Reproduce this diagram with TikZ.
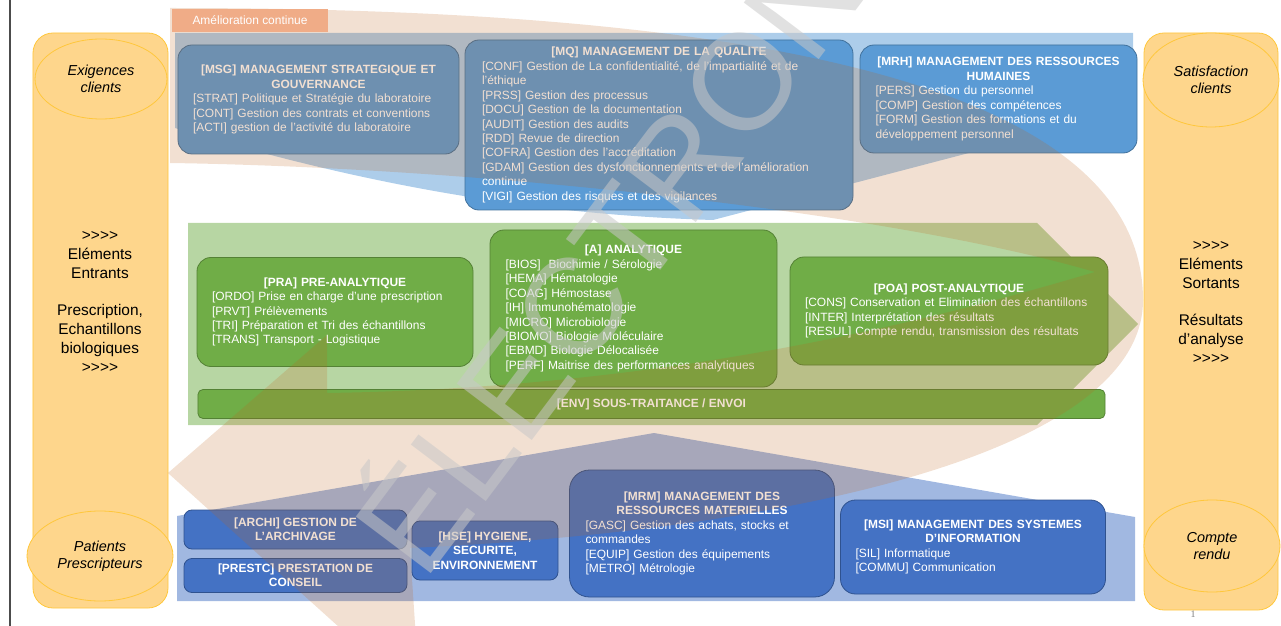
\documentclass[tikz,border=0pt]{standalone}
\usepackage{fontspec}
\setmainfont{Liberation Sans}
\newfontfamily\serif{Liberation Serif}
\usetikzlibrary{shapes.geometric}

\definecolor{colonne}{RGB}{254,214,140}
\definecolor{colbord}{RGB}{255,199,60}
\definecolor{bleuhaut}{RGB}{91,155,213}
\definecolor{bleuhautbord}{RGB}{65,113,156}
\definecolor{vert}{RGB}{112,173,71}
\definecolor{vertbord}{RGB}{84,130,53}
\definecolor{bleubas}{RGB}{68,114,196}
\definecolor{bleubasbord}{RGB}{47,82,143}
\definecolor{peche}{RGB}{190,100,30}
\definecolor{etiquette}{RGB}{240,172,135}
\definecolor{filigrane}{RGB}{200,200,200}

\newcommand{\corps}{\fontsize{12}{14.5}\selectfont}
\newcommand{\titre}[1]{{\centering\bfseries #1\par}}
\newcommand{\fleches}{>\kern0pt>\kern0pt>\kern0pt>}

\tikzset{
  colonne/.style={draw=colbord, fill=colonne, line width=0.8bp, rounded corners=20bp},
  bulle/.style={ellipse, draw=colbord, fill=colonne, line width=0.8bp, inner sep=0pt,
    font=\fontsize{14.5}{17}\selectfont\itshape, align=center},
  cote/.style={font=\fontsize{15.5}{19}\selectfont, align=center},
  boite/.style={line width=0.8bp, text=white, font=\corps, align=left, inner sep=0pt},
  hautbox/.style={boite, draw=bleuhautbord, fill=bleuhaut, rounded corners=14bp},
  vertbox/.style={boite, draw=vertbord, fill=vert, rounded corners=14bp},
  basbox/.style={boite, draw=bleubasbord, fill=bleubas, rounded corners=8bp},
}

\begin{document}
\begin{tikzpicture}[x=1bp,y=-1bp]
  \useasboundingbox (0,0) rectangle (1281,626);
  \clip (0,0) rectangle (1281,626);

  \draw[line width=1.5bp, black!70] (10,0) -- (10,626);

  % colonnes laterales
  \node[colonne, minimum width=135bp, minimum height=575bp] (entree) at (100.5,320.5) {};
  \node[colonne, minimum width=134bp, minimum height=577bp] (sortie) at (1211,321.5) {};

  \node[bulle, minimum width=132bp, minimum height=80bp] (exigences) at (101,79) {Exigences\\clients};
  \node[bulle, minimum width=146bp, minimum height=90bp] (patients) at (100,556) {Patients\\Prescripteurs};
  \node[bulle, minimum width=136bp, minimum height=94bp] (satisfaction) at (1211,80) {Satisfaction\\clients};
  \node[bulle, minimum width=136bp, minimum height=92bp] (compte) at (1212,546) {Compte\\rendu};

  \node[cote] (entrants) at (100,302) {\fleches\\Eléments\\Entrants\\[19pt]Prescription,\\Echantillons\\biologiques\\\fleches};
  \node[cote] (sortants) at (1211,302.5) {\fleches\\Eléments\\Sortants\\[19pt]Résultats\\d’analyse\\\fleches};

  % bandes
  \fill[bleuhaut, opacity=0.5] (175,33) -- (1133,33) -- (1133,110) -- (713,220)
    .. controls (550,215) and (380,190) .. (175,128) -- cycle;
  \fill[vert, opacity=0.5] (188,223) -- (1037,223) -- (1138,324) -- (1037,425) -- (188,425) -- cycle;
  \fill[bleubas, opacity=0.5] (177,516) -- (654,433) -- (1135,517) -- (1135,601) -- (177,601) -- cycle;

  % management
  \begin{scope}[every node/.style={hautbox}]
    \node[minimum width=281bp, minimum height=109bp, text width=251bp] (msg) at (318.5,99.5)
      {\titre{[MSG] MANAGEMENT STRATEGIQUE ET\\GOUVERNANCE}[STRAT] Politique et Stratégie du laboratoire\\{}[CONT] Gestion des contrats et conventions\\{}[ACTI] gestion de l'activité du laboratoire};
    \node[minimum width=388bp, minimum height=170bp, text width=354bp] (mq) at (659,125)
      {\titre{[MQ] MANAGEMENT DE LA QUALITE}[CONF] Gestion de La confidentialité, de l’impartialité et de\\l’éthique\\{}[PRSS] Gestion des processus\\{}[DOCU] Gestion de la documentation\\{}[AUDIT] Gestion des audits\\{}[RDD] Revue de direction\\{}[COFRA] Gestion des l’accréditation\\{}[GDAM] Gestion des dysfonctionnements et de l’amélioration\\continue\\{}[VIGI] Gestion des risques et des vigilances};
    \node[minimum width=277bp, minimum height=108bp, text width=246bp] (mrh) at (998.5,99)
      {\titre{[MRH] MANAGEMENT DES RESSOURCES\\HUMAINES}[PERS] Gestion du personnel\\{}[COMP] Gestion des compétences\\{}[FORM] Gestion des formations et du\\développement personnel};
  \end{scope}

  % realisation
  \begin{scope}[every node/.style={vertbox}]
    \node[minimum width=276bp, minimum height=109bp, text width=246bp] (pra) at (335,312)
      {\titre{[PRA] PRE-ANALYTIQUE}[ORDO] Prise en charge d’une prescription\\{}[PRVT] Prélèvements\\{}[TRI] Préparation et Tri des échantillons\\{}[TRANS] Transport - Logistique};
    \node[minimum width=287bp, minimum height=157bp, text width=256bp] (ana) at (633.5,308.5)
      {\titre{[A] ANALYTIQUE}[BIOS]\ \ Biochimie / Sérologie\\{}[HEMA] Hématologie\\{}[COAG] Hémostase\\{}[IH] Immunohématologie\\{}[MICRO] Microbiologie\\{}[BIOMO] Biologie Moléculaire\\{}[EBMD] Biologie Délocalisée\\{}[PERF] Maitrise des performances analytiques};
    \node[minimum width=318bp, minimum height=108bp, text width=288bp] (poa) at (949,311)
      {\titre{[POA] POST-ANALYTIQUE}[CONS] Conservation et Elimination des échantillons\\{}[INTER] Interprétation des résultats\\{}[RESUL] Compte rendu, transmission des résultats};
    \node[rounded corners=5bp, align=center, font=\corps\bfseries, minimum width=907bp, minimum height=29bp] (env) at (651.5,404)
      {[ENV] SOUS-TRAITANCE / ENVOI};
  \end{scope}

  % support
  \begin{scope}[every node/.style={basbox}]
    \node[align=center, font=\corps\bfseries, minimum width=223bp, minimum height=39bp] (archi) at (295.5,529.5)
      {[ARCHI] GESTION DE\\L’ARCHIVAGE};
    \node[align=center, font=\corps\bfseries, minimum width=223bp, minimum height=34bp] (prestc) at (295.5,575.5)
      {[PRESTC] PRESTATION DE\\CONSEIL};
    \node[align=center, font=\corps\bfseries, minimum width=146bp, minimum height=59bp] (hse) at (485,550.5)
      {[HSE] HYGIENE,\\SECURITE,\\ENVIRONNEMENT};
    \node[rounded corners=20bp, minimum width=265bp, minimum height=127bp, text width=233bp] (mrm) at (702,533.5)
      {\titre{[MRM] MANAGEMENT DES\\RESSOURCES MATERIELLES}[GASC] Gestion des achats, stocks et\\commandes\\{}[EQUIP] Gestion des équipements\\{}[METRO] Métrologie};
    \node[rounded corners=15bp, minimum width=265bp, minimum height=94bp, text width=235bp] (msi) at (973,547)
      {\titre{[MSI] MANAGEMENT DES SYSTEMES\\D’INFORMATION}[SIL] Informatique\\{}[COMMU] Communication};
  \end{scope}

  % amelioration continue
  \fill[peche, opacity=0.2] (170,8) .. controls (700,8) and (1143,70) .. (1143,300)
    .. controls (1143,450) and (800,530) .. (410,548) -- (420,700) -- (168,473) -- (327,335) -- (327,393)
    .. controls (650,388) and (900,330) .. (1095,272)
    .. controls (900,215) and (500,168) .. (170,163) -- cycle;
  \node[fill=etiquette, text=white, font=\fontsize{12}{12}\selectfont, minimum width=156bp, minimum height=23bp, inner sep=0pt] (amelioration) at (250,20.5) {Amélioration continue};

  \node[rotate=53, text=filigrane, opacity=0.55, font=\fontsize{137}{137}\selectfont] (filigrane) at (712,125) {ÉLECTRONIQUE};

  \node[font=\serif\fontsize{10}{10}\selectfont, text=black!50] (page) at (1193,614) {1};
\end{tikzpicture}
\end{document}
